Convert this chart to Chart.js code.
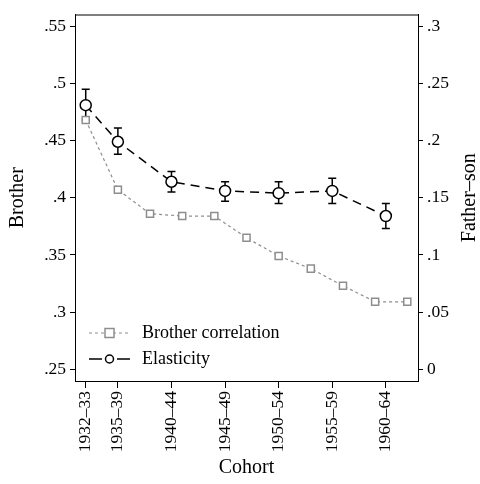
<!DOCTYPE html>
<html>
<head>
<meta charset="utf-8">
<script src="https://cdn.jsdelivr.net/npm/chart.js@4/dist/chart.umd.min.js"></script>
<style>
  html, body { margin: 0; padding: 0; background: #fff; }
</style>
</head>
<body>
<canvas id="chartCohort" width="480" height="484"></canvas>
<script>
// Brother correlation (left axis), one point every 3 cohort years
const brotherYears = [1932, 1935, 1938, 1941, 1944, 1947, 1950, 1953, 1956, 1959, 1962];
const brotherCorr = [0.468, 0.407, 0.386, 0.384, 0.384, 0.365, 0.349, 0.338, 0.323, 0.309, 0.309];

// Father-son elasticity (right axis) with confidence bounds
const fatherYears = [1932, 1935, 1940, 1945, 1950, 1955, 1960];
const elasticity = [0.231, 0.199, 0.164, 0.156, 0.154, 0.156, 0.134];
const elasticityLow = [0.218, 0.188, 0.155, 0.147, 0.145, 0.145, 0.123];
const elasticityHigh = [0.245, 0.211, 0.173, 0.164, 0.164, 0.167, 0.145];

// Tick labels
const cohortTicks = [1932, 1935, 1940, 1945, 1950, 1955, 1960];
const cohortLabels = ["1932–33", "1935–39", "1940–44", "1945–49", "1950–54", "1955–59", "1960–64"];
const brotherTicks = [0.25, 0.3, 0.35, 0.4, 0.45, 0.5, 0.55];
const brotherLabels = [".25", ".3", ".35", ".4", ".45", ".5", ".55"];
const fatherTicks = [0, 0.05, 0.1, 0.15, 0.2, 0.25, 0.3];
const fatherLabels = ["0", ".05", ".1", ".15", ".2", ".25", ".3"];

const FONT = "'Liberation Serif', 'Times New Roman', serif";
const GRAY = "#8e8e8e";

// Error bars, drawn under the markers
const errorBars = {
    id: "errorBars",
    beforeDatasetsDraw(chart) {
        const ctx = chart.ctx;
        const xs = chart.scales.x;
        const ys = chart.scales.y1;
        ctx.save();
        ctx.strokeStyle = "#000";
        ctx.lineWidth = 1.5;
        for (let i = 0; i < fatherYears.length; i++) {
            const x = xs.getPixelForValue(fatherYears[i]);
            const y0 = ys.getPixelForValue(elasticityLow[i]);
            const y1 = ys.getPixelForValue(elasticityHigh[i]);
            ctx.beginPath();
            ctx.moveTo(x, y0); ctx.lineTo(x, y1);
            ctx.moveTo(x - 4, y0); ctx.lineTo(x + 4, y0);
            ctx.moveTo(x - 4, y1); ctx.lineTo(x + 4, y1);
            ctx.stroke();
        }
        ctx.restore();
    }
};

// Top border of the plot box, right axis title and the legend inside the plot
const boxAndLegend = {
    id: "boxAndLegend",
    afterDraw(chart) {
        const ctx = chart.ctx;
        const a = chart.chartArea;
        ctx.save();
        ctx.strokeStyle = "#000";
        ctx.lineWidth = 1;
        ctx.beginPath();
        ctx.moveTo(a.left, a.top + 0.5);
        ctx.lineTo(a.right, a.top + 0.5);
        ctx.stroke();

        // right axis title reads bottom to top, like the left one
        ctx.save();
        ctx.translate(470, (a.top + a.bottom) / 2);
        ctx.rotate(-Math.PI / 2);
        ctx.fillStyle = "#000";
        ctx.font = "20px " + FONT;
        ctx.textAlign = "center";
        ctx.textBaseline = "middle";
        ctx.fillText("Father–son", 0, 0);
        ctx.restore();

        const lx = a.left + 14;
        const row1 = a.bottom - 48;
        const row2 = a.bottom - 22;

        // Brother correlation
        ctx.strokeStyle = GRAY;
        ctx.lineWidth = 1.2;
        ctx.setLineDash([3, 3]);
        ctx.beginPath();
        ctx.moveTo(lx, row1); ctx.lineTo(lx + 40, row1);
        ctx.stroke();
        ctx.setLineDash([]);
        ctx.fillStyle = "#fff";
        ctx.lineWidth = 1.5;
        ctx.fillRect(lx + 16, row1 - 4.5, 9, 9);
        ctx.strokeRect(lx + 16, row1 - 4.5, 9, 9);

        // Elasticity
        ctx.strokeStyle = "#000";
        ctx.lineWidth = 1.5;
        ctx.beginPath();
        ctx.moveTo(lx, row2); ctx.lineTo(lx + 13, row2);
        ctx.moveTo(lx + 28, row2); ctx.lineTo(lx + 41, row2);
        ctx.stroke();
        ctx.beginPath();
        ctx.arc(lx + 20.5, row2, 4, 0, Math.PI * 2);
        ctx.fill();
        ctx.stroke();

        ctx.fillStyle = "#000";
        ctx.font = "18px " + FONT;
        ctx.textBaseline = "middle";
        ctx.textAlign = "left";
        ctx.fillText("Brother correlation", lx + 53, row1);
        ctx.fillText("Elasticity", lx + 53, row2);
        ctx.restore();
    }
};

function fixedTicks(values) {
    return function(scale) {
        scale.ticks = values.map(v => ({ value: v }));
    };
}

const ctxCohort = document.getElementById("chartCohort").getContext("2d");
new Chart(ctxCohort, {
    type: "line",
    data: {
        datasets: [
            {
                label: "Elasticity",
                data: fatherYears.map((x, i) => ({ x: x, y: elasticity[i] })),
                yAxisID: "y1",
                borderColor: "#000",
                borderWidth: 1.5,
                borderDash: [9, 6],
                pointStyle: "circle",
                pointRadius: 5.5,
                pointBackgroundColor: "#fff",
                pointBorderColor: "#000",
                pointBorderWidth: 1.5,
                tension: 0
            },
            {
                label: "Brother correlation",
                data: brotherYears.map((x, i) => ({ x: x, y: brotherCorr[i] })),
                yAxisID: "y",
                borderColor: GRAY,
                borderWidth: 1.2,
                borderDash: [3, 3],
                pointStyle: "rect",
                pointRadius: 5,
                pointBackgroundColor: "#fff",
                pointBorderColor: GRAY,
                pointBorderWidth: 1.5,
                tension: 0
            }
        ]
    },
    options: {
        responsive: false,
        animation: false,
        layout: { padding: { top: 8, left: 0, right: 0, bottom: 0 } },
        plugins: {
            legend: { display: false },
            tooltip: { enabled: false }
        },
        scales: {
            x: {
                type: "linear",
                min: 1931,
                max: 1963,
                afterBuildTicks: fixedTicks(cohortTicks),
                afterFit: s => { s.height = 103; },
                grid: { drawOnChartArea: false, drawTicks: true, tickLength: 7, color: "#000" },
                border: { color: "#000", width: 1 },
                ticks: {
                    minRotation: 90,
                    maxRotation: 90,
                    autoSkip: false,
                    padding: 3,
                    color: "#000",
                    font: { family: FONT, size: 17.5 },
                    callback: (value, index) => cohortLabels[index]
                },
                title: {
                    display: true,
                    text: "Cohort",
                    color: "#000",
                    font: { family: FONT, size: 20 },
                    padding: { top: 0, bottom: 4 }
                }
            },
            y: {
                position: "left",
                min: 0.2397,
                max: 0.5603,
                afterBuildTicks: fixedTicks(brotherTicks),
                afterFit: s => { s.width = 75; },
                grid: { drawOnChartArea: false, drawTicks: true, tickLength: 5, color: "#000" },
                border: { color: "#000", width: 1 },
                ticks: {
                    padding: 4,
                    color: "#000",
                    font: { family: FONT, size: 17.5 },
                    callback: (value, index) => brotherLabels[index]
                },
                title: {
                    display: true,
                    text: "Brother",
                    color: "#000",
                    font: { family: FONT, size: 20 },
                    padding: { top: 6, bottom: 0 }
                }
            },
            y1: {
                position: "right",
                min: -0.0103,
                max: 0.3103,
                afterBuildTicks: fixedTicks(fatherTicks),
                afterFit: s => { s.width = 62; },
                grid: { drawOnChartArea: false, drawTicks: true, tickLength: 5, color: "#000" },
                border: { color: "#000", width: 1 },
                ticks: {
                    padding: 4,
                    color: "#000",
                    font: { family: FONT, size: 17.5 },
                    callback: (value, index) => fatherLabels[index]
                },
                title: { display: false }
            }
        }
    },
    plugins: [errorBars, boxAndLegend]
});
</script>
</body>
</html>
